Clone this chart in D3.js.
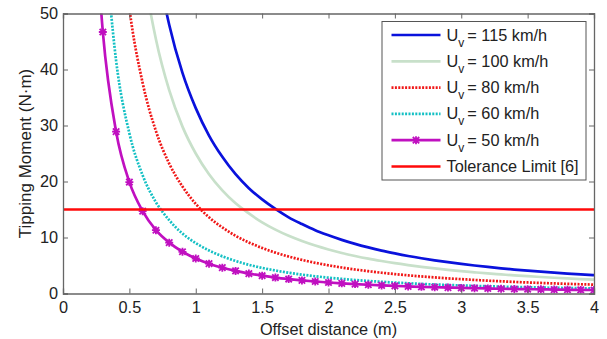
<!DOCTYPE html>
<html>
<head>
<meta charset="utf-8">
<script src="https://cdn.jsdelivr.net/npm/d3@7"></script>
<style>
  body { margin: 0; background: #fff; }
  text { font-family: "Liberation Sans", Arial, sans-serif; fill: #222; }
</style>
</head>
<body>
<div id="chart"></div>
<script>
// offset distance (m)
const xs = [0.3,0.4,0.5,0.6,0.7,0.8,0.9,1.0,1.1,1.2,1.3,1.4,1.5,1.6,1.7,1.8,1.9,2.0,
  2.1,2.2,2.3,2.4,2.5,2.6,2.7,2.8,2.9,3.0,3.1,3.2,3.3,3.4,3.5,3.6,3.7,3.8,3.9,4.0];

// tipping moment (N·m)
const m115 = [null,null,null,77.6,60.0,48.0,39.4,33.1,28.2,24.4,21.3,18.8,16.8,15.1,13.6,12.4,11.3,10.4,
  9.58,8.86,8.23,7.66,7.16,6.70,6.29,5.92,5.59,5.28,5.00,4.74,4.50,4.28,4.08,3.89,3.72,3.56,3.41,3.27];
const m100 = [null,null,79.6,58.7,45.4,36.3,29.8,25.0,21.3,18.4,16.1,14.3,12.7,11.4,10.3,9.37,8.56,7.86,
  7.24,6.70,6.22,5.80,5.41,5.07,4.76,4.48,4.23,3.99,3.78,3.58,3.41,3.24,3.09,2.95,2.81,2.69,2.58,2.47];
const m80 = [null,73.9,50.9,37.6,29.0,23.2,19.1,16.0,13.6,11.8,10.3,9.12,8.13,7.30,6.60,6.00,5.48,5.03,
  4.64,4.29,3.98,3.71,3.46,3.24,3.05,2.87,2.70,2.56,2.42,2.29,2.18,2.07,1.97,1.88,1.80,1.72,1.65,1.58];
const m60 = [67.2,41.6,28.6,21.1,16.3,13.1,10.7,9.0,7.68,6.64,5.81,5.13,4.57,4.11,3.71,3.37,3.08,2.83,
  2.61,2.41,2.24,2.09,1.95,1.83,1.71,1.61,1.52,1.44,1.36,1.29,1.23,1.17,1.11,1.06,1.01,0.97,0.93,0.89];
const m50 = [46.7,28.9,19.9,14.7,11.3,9.08,7.45,6.25,5.33,4.61,4.03,3.56,3.18,2.85,2.58,2.34,2.14,1.96,
  1.81,1.68,1.56,1.45,1.35,1.27,1.19,1.12,1.06,1.00,0.95,0.90,0.85,0.81,0.77,0.74,0.70,0.67,0.64,0.62];
// lead-in point above the top edge for the 50 km/h curve
const m50Start = [0.25, 63];

const toleranceLimit = 15;
const xTicks = [0,0.5,1,1.5,2,2.5,3,3.5,4];
const yTicks = [0,10,20,30,40,50];

const legendLabels = ["115 km/h","100 km/h","80 km/h","60 km/h","50 km/h"];

const series = [
  {vals: m115, color: "#0a12dc", dash: null, width: 2.7},
  {vals: m100, color: "#c8e0ca", dash: null, width: 2.7},
  {vals: m80,  color: "#f01818", dash: "2,1.4", width: 2.7},
  {vals: m60,  color: "#14c0c4", dash: "2,1.4", width: 2.7},
  {vals: m50,  color: "#c010c0", dash: null, width: 2.7, marker: true}
];

const width = 607, height = 339;
const margin = {top: 13.5, right: 13, bottom: 45.5, left: 63};
const w = width - margin.left - margin.right;
const h = height - margin.top - margin.bottom;
const fs = 16.3;

const svg = d3.select("#chart").append("svg")
  .attr("width", width).attr("height", height);

const g = svg.append("g").attr("transform", `translate(${margin.left},${margin.top})`);

const x = d3.scaleLinear().domain([0, 4]).range([0, w]);
const y = d3.scaleLinear().domain([0, 50]).range([h, 0]);

svg.append("defs").append("clipPath").attr("id", "clip")
  .append("rect").attr("width", w).attr("height", h);

const plot = g.append("g").attr("clip-path", "url(#clip)");

const line = d3.line()
  .defined(d => d[1] != null)
  .x(d => x(d[0])).y(d => y(d[1]))
  .curve(d3.curveMonotoneX);

const star = "M-4,0H4M0,-4V4M-3.2,-3.2L3.2,3.2M-3.2,3.2L3.2,-3.2";

series.forEach(s => {
  let pts = xs.map((xv, i) => [xv, s.vals[i]]);
  if (s.marker) pts = [m50Start].concat(pts);
  plot.append("path")
    .datum(pts)
    .attr("fill", "none")
    .attr("stroke", s.color)
    .attr("stroke-width", s.width)
    .attr("stroke-dasharray", s.dash)
    .attr("d", line);
  if (s.marker) {
    plot.selectAll(".mk")
      .data(pts.slice(1).filter(d => d[1] <= 50))
      .enter().append("path")
      .attr("transform", d => `translate(${x(d[0])},${y(d[1])})`)
      .attr("d", star)
      .attr("stroke", s.color)
      .attr("stroke-width", 1.8);
  }
});

plot.append("line")
  .attr("x1", 0).attr("x2", w)
  .attr("y1", y(toleranceLimit)).attr("y2", y(toleranceLimit))
  .attr("stroke", "#ff0a0a").attr("stroke-width", 2.7);

// axes (box with inward ticks on all sides)
const axisColor = "#666";
const xAxis = g.append("g").attr("transform", `translate(0,${h})`)
  .call(d3.axisBottom(x).tickValues(xTicks).tickSize(-5).tickPadding(8).tickFormat(d3.format("")));
const yAxis = g.append("g")
  .call(d3.axisLeft(y).tickValues(yTicks).tickSize(-5).tickPadding(5).tickFormat(d3.format("")));
const xTop = g.append("g")
  .call(d3.axisTop(x).tickValues(xTicks).tickSize(-5).tickFormat(""));
const yRight = g.append("g").attr("transform", `translate(${w},0)`)
  .call(d3.axisRight(y).tickValues(yTicks).tickSize(-5).tickFormat(""));

[xAxis, yAxis, xTop, yRight].forEach(a => {
  a.select(".domain").attr("stroke", axisColor).attr("stroke-width", 1.3);
  a.selectAll(".tick line").attr("stroke", axisColor).attr("stroke-width", 1);
  a.selectAll("text").attr("font-size", fs).style("font-family", "Liberation Sans, Arial, sans-serif").attr("fill", "#222");
});
xAxis.selectAll("text").attr("dy", "0.71em");

svg.append("text")
  .attr("x", margin.left + x(2)).attr("y", 335)
  .attr("text-anchor", "middle").attr("font-size", fs)
  .text("Offset distance (m)");

svg.append("text")
  .attr("transform", `translate(31,${margin.top + h / 2}) rotate(-90)`)
  .attr("text-anchor", "middle").attr("font-size", 17)
  .text("Tipping Moment (N\u00b7m)");

// legend
const lg = svg.append("g").attr("transform", "translate(382,21.5)");
lg.append("rect").attr("width", 204).attr("height", 158.5)
  .attr("fill", "#fff").attr("stroke", "#555").attr("stroke-width", 1);

const legendItems = series.map((s, i) => ({s, label: legendLabels[i]}));
legendItems.push({s: {color: "#ff0a0a", dash: null, width: 2.7}, label: "Tolerance Limit [6]"});

legendItems.forEach((it, i) => {
  const cy = 13.5 + i * 26.3;
  const row = lg.append("g").attr("transform", `translate(0,${cy})`);
  row.append("line").attr("x1", 9.5).attr("x2", 58.5).attr("y1", 0).attr("y2", 0)
    .attr("stroke", it.s.color).attr("stroke-width", it.s.width)
    .attr("stroke-dasharray", it.s.dash);
  if (it.s.marker) {
    row.append("path").attr("transform", "translate(34,0)")
      .attr("d", star)
      .attr("stroke", it.s.color).attr("stroke-width", 1.8);
  }
  const t = row.append("text").attr("x", 64.5).attr("y", 5.5).attr("font-size", fs);
  if (i < 5) {
    t.append("tspan").text("U");
    t.append("tspan").attr("font-size", 12).attr("dy", 6).text("v");
    t.append("tspan").attr("dy", -6).attr("dx", -1.5).text(" = " + it.label);
  } else {
    t.text(it.label);
  }
});
</script>
</body>
</html>
